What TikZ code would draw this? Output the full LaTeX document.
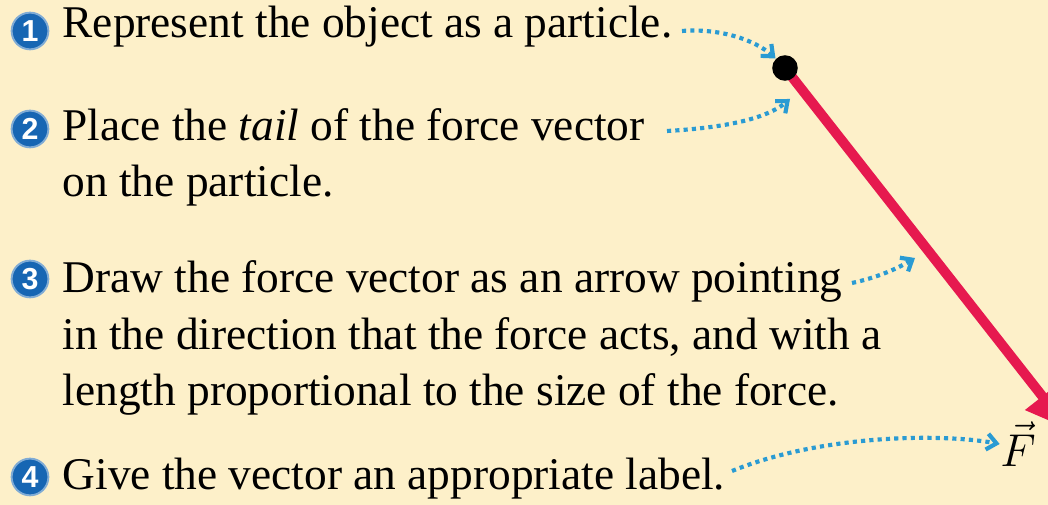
\documentclass[tikz,border=0pt]{standalone}
\usepackage{fontspec}
\setmainfont{Liberation Serif}
\newfontfamily\badgefont{Liberation Sans}
\usepackage{xcolor}
\usetikzlibrary{arrows.meta,positioning}

\definecolor{paper}{HTML}{FDF0C9}
\definecolor{badgeblue}{HTML}{1766B3}
\definecolor{hintblue}{HTML}{2A9BD3}
\definecolor{forcered}{HTML}{E6194F}

\begin{document}
\begin{tikzpicture}[x=0.011cm, y=-0.011cm, font=\fontsize{14.2}{17.8}\selectfont, every node/.style={inner sep=0pt}]
        \tikzset{
            numbadge/.style={circle, fill=badgeblue, draw=badgeblue!55!white, line width=0.6pt, minimum size=11.5pt, text=white, font=\badgefont\bfseries\fontsize{9.5}{9.5}\selectfont},
            steptext/.style={anchor=base west, align=left},
            hint/.style={hintblue, line width=1.3pt, dash pattern=on 1.3pt off 1.3pt, -{Straight Barb[length=3pt, width=5pt, line width=1.3pt]}},
            forcevec/.style={forcered, line width=3.1pt, -{Triangle[length=13pt, width=13pt]}}
        }

        % paper and frame
        \fill[paper] (0,0) rectangle (1048,505);
        \clip (0,0) rectangle (1048,505);

        % step texts (anchored at the baseline of their last line)
        \node[steptext] (t1) at (62,38) {Represent the object as a particle.};
        \node[steptext] (t2) at (62,197) {Place the \textit{tail} of the force vector\\on the particle.};
        \node[steptext] (t3) at (62,406) {Draw the force vector as an arrow pointing\\in the direction that the force acts, and with a\\length proportional to the size of the force.};
        \node[steptext] (t4) at (62,490) {Give the vector an appropriate label.};

        % number badges
        \node[numbadge] (b1) at (30,31) {1};
        \node[numbadge] (b2) at (30,129) {2};
        \node[numbadge] (b3) at (30,279) {3};
        \node[numbadge] (b4) at (30,477) {4};

        % the particle and its force vector
        \coordinate (tail) at (785,68);
        \coordinate (tip) at (1068,429);
        \draw[forcevec] (tail) -- (tip);
        \node[circle, fill=black, minimum size=8pt] (dot) at (tail) {};
        \node (flabel) at (1018,444) {$\vec{F}$};

        % dotted pointers
        \coordinate (p1) at (682,31);
        \coordinate (p2) at (667,131);
        \coordinate (p3) at (852,283);
        \coordinate (p4) at (732,471);
        \coordinate (q2) at (790,99);
        \coordinate (q3) at (915,258);
        \draw[hint] (p1) .. controls (720,28) and (755,40) .. (dot.north west);
        \draw[hint] (p2) .. controls (720,128) and (765,120) .. (q2);
        \draw[hint] (p3) .. controls (875,278) and (895,270) .. (q3);
        \draw[hint] (p4) .. controls (820,435) and (940,433) .. (flabel.west);
\end{tikzpicture}
\end{document}
